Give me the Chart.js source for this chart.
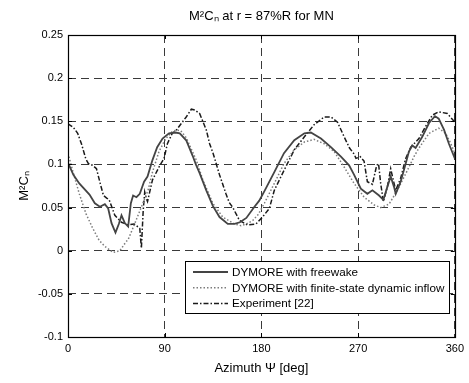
<!DOCTYPE html>
<html>
<head>
<meta charset="utf-8">
<script src="https://cdn.jsdelivr.net/npm/chart.js@4.4.1/dist/chart.umd.min.js"></script>
<style>
  html, body { margin: 0; padding: 0; background: #fff; }
  #wrap { width: 469px; height: 383px; position: relative; }
</style>
</head>
<body>
<div id="wrap"><canvas id="c" width="469" height="383"></canvas></div>
<script>
// ---- Data ----
const chartTitle = 'M\u00B2C\u2099 at r = 87%R for MN';
const yAxisTitle = 'M\u00B2C\u2099';
const xAxisTitle = 'Azimuth \u03A8 [deg]';
const xTickLabels = ['0', '90', '180', '270', '360'];
const yTickLabels = ['-0.1', '-0.05', '0', '0.05', '0.1', '0.15', '0.2', '0.25'];
const seriesNames = ['DYMORE with freewake', 'DYMORE with finite-state dynamic inflow', 'Experiment [22]'];

const freewakeAz = [0, 5, 10.5, 20, 25, 29.7, 34.3, 37.4, 40.5, 44.2, 47.3, 49.8, 52.9, 56, 58.5, 60.6, 63.7, 66.8, 70.8, 74, 78.6, 83, 88, 94, 100, 104, 110, 116, 119, 122.5, 128.7, 134.8, 141, 148.7, 155, 160, 166, 173, 178, 182.8, 187.4, 192, 201, 210.6, 220, 226, 235.4, 244.7, 254, 261.6, 266.3, 272.5, 278.6, 283.3, 289.5, 293.5, 297.2, 300.3, 303.4, 305, 309.6, 314.3, 317.3, 320.4, 323.5, 329.7, 336, 341.5, 345, 350, 354.5, 360];
const freewakeVal = [0.102, 0.088, 0.078, 0.065, 0.055, 0.051, 0.054, 0.049, 0.032, 0.021, 0.031, 0.041, 0.032, 0.028, 0.055, 0.064, 0.062, 0.066, 0.080, 0.086, 0.105, 0.120, 0.130, 0.136, 0.137, 0.136, 0.128, 0.110, 0.100, 0.090, 0.070, 0.052, 0.039, 0.031, 0.031, 0.033, 0.038, 0.050, 0.058, 0.069, 0.080, 0.091, 0.113, 0.128, 0.136, 0.137, 0.130, 0.120, 0.109, 0.099, 0.088, 0.072, 0.066, 0.070, 0.064, 0.059, 0.074, 0.086, 0.074, 0.066, 0.080, 0.101, 0.115, 0.122, 0.119, 0.132, 0.148, 0.156, 0.153, 0.140, 0.124, 0.107];

const finiteAz = [0, 4.3, 10.5, 16.7, 23, 29, 34.3, 42, 48.3, 53.8, 56, 62, 68.4, 74.5, 78.6, 84.7, 91, 97, 101, 105, 110, 119.4, 125.5, 134.8, 144, 155, 161, 166, 172, 177, 182.8, 192, 201, 210.6, 220, 229, 238.4, 247.7, 257, 266.3, 271, 275.6, 285, 291, 298.8, 306.5, 315.8, 322, 326.6, 336, 345, 351.4, 356, 360];
const finiteVal = [0.113, 0.093, 0.066, 0.043, 0.026, 0.012, 0.005, -0.002, 0.000, 0.010, 0.013, 0.031, 0.051, 0.070, 0.091, 0.115, 0.130, 0.138, 0.140, 0.139, 0.131, 0.105, 0.082, 0.055, 0.039, 0.031, 0.029, 0.031, 0.035, 0.042, 0.055, 0.078, 0.101, 0.117, 0.126, 0.129, 0.124, 0.115, 0.097, 0.078, 0.070, 0.062, 0.053, 0.050, 0.054, 0.070, 0.093, 0.109, 0.119, 0.136, 0.142, 0.136, 0.125, 0.113];

const experimentAz = [0, 5, 9, 12.5, 16.7, 19, 23, 26.5, 30.6, 33, 36, 38.3, 43.6, 49.8, 56, 61.5, 66.8, 68.3, 70, 71.4, 73, 74, 78.6, 84.7, 89.4, 92.5, 97, 101, 110, 114.8, 118, 122.5, 128.7, 131.8, 135, 141, 147, 150, 153.4, 159.6, 167, 175, 181, 187.4, 192, 201, 210.6, 220, 229, 238.4, 244.7, 250.8, 257, 262, 266.3, 268, 272, 275.5, 278.6, 283.3, 287.3, 289, 291, 293.5, 297.2, 300.3, 302.7, 305, 309.6, 314.3, 319, 326.6, 332.8, 339, 345, 353, 360];
const experimentVal = [0.147, 0.143, 0.136, 0.124, 0.106, 0.101, 0.099, 0.095, 0.075, 0.064, 0.061, 0.059, 0.041, 0.033, 0.030, 0.031, 0.026, 0.003, 0.047, 0.068, 0.060, 0.057, 0.082, 0.097, 0.107, 0.124, 0.136, 0.140, 0.155, 0.164, 0.163, 0.159, 0.140, 0.124, 0.113, 0.088, 0.066, 0.056, 0.050, 0.035, 0.030, 0.031, 0.039, 0.049, 0.070, 0.093, 0.117, 0.132, 0.146, 0.155, 0.155, 0.149, 0.132, 0.119, 0.112, 0.107, 0.109, 0.104, 0.080, 0.077, 0.099, 0.101, 0.078, 0.057, 0.074, 0.095, 0.082, 0.070, 0.084, 0.107, 0.120, 0.130, 0.144, 0.157, 0.161, 0.159, 0.149];

function pts(xs, ys) { return xs.map((x, i) => ({ x: x, y: ys[i] })); }

const FONT = "'Liberation Sans', Arial, Helvetica, sans-serif";

const styles = [
  { color: '#444444', width: 1.8, dash: [] },
  { color: '#7c7c7c', width: 1.5, dash: [1.5, 2] },
  { color: '#1a1a1a', width: 1.5, dash: [5, 2, 1.5, 2] }
];

const boxPlugin = {
  id: 'boxAndLegend',
  afterLayout(chart) {
    const tb = chart.titleBlock;
    if (tb) { tb.left = chart.chartArea.left; tb.right = chart.chartArea.right; }
  },
  afterDraw(chart) {
    const ctx = chart.ctx;
    const a = chart.chartArea;
    const xs = chart.scales.x, ys = chart.scales.y;
    ctx.save();
    // inward tick marks
    ctx.strokeStyle = '#000';
    ctx.lineWidth = 1;
    ctx.setLineDash([]);
    ys.ticks.forEach(t => {
      const y = Math.round(ys.getPixelForValue(t.value)) + 0.5;
      ctx.beginPath();
      ctx.moveTo(a.left, y); ctx.lineTo(a.left + 4, y);
      ctx.moveTo(a.right, y); ctx.lineTo(a.right - 4, y);
      ctx.stroke();
    });
    xs.ticks.forEach(t => {
      const x = Math.round(xs.getPixelForValue(t.value)) + 0.5;
      ctx.beginPath();
      ctx.moveTo(x, a.top); ctx.lineTo(x, a.top + 4);
      ctx.moveTo(x, a.bottom); ctx.lineTo(x, a.bottom - 4);
      ctx.stroke();
    });
    // axes box
    ctx.lineWidth = 1.2;
    ctx.strokeRect(Math.round(a.left) + 0.5, Math.round(a.top) + 0.5,
                   Math.round(a.right - a.left), Math.round(a.bottom - a.top));
    // legend
    const lx = a.left + 117, ly = a.bottom - 76;
    const lw = 264, lh = 52;
    ctx.fillStyle = '#fff';
    ctx.fillRect(lx, ly, lw, lh);
    ctx.lineWidth = 1;
    ctx.strokeStyle = '#000';
    ctx.strokeRect(lx + 0.5, ly + 0.5, lw, lh);
    ctx.font = '11.7px ' + FONT;
    ctx.textBaseline = 'middle';
    ctx.textAlign = 'left';
    chart.data.datasets.forEach((ds, i) => {
      const y = ly + 11 + i * 15.8;
      ctx.beginPath();
      ctx.strokeStyle = ds.borderColor;
      ctx.lineWidth = ds.borderWidth;
      ctx.setLineDash(ds.borderDash || []);
      ctx.moveTo(lx + 8, y); ctx.lineTo(lx + 43, y);
      ctx.stroke();
      ctx.setLineDash([]);
      ctx.fillStyle = '#000';
      ctx.fillText(ds.label, lx + 47, y + 0.5);
    });
    ctx.restore();
  }
};

new Chart(document.getElementById('c'), {
  type: 'line',
  data: {
    datasets: [
      { label: seriesNames[0], data: pts(freewakeAz, freewakeVal) },
      { label: seriesNames[1], data: pts(finiteAz, finiteVal) },
      { label: seriesNames[2], data: pts(experimentAz, experimentVal) }
    ].map((d, i) => Object.assign(d, {
      borderColor: styles[i].color,
      borderWidth: styles[i].width,
      borderDash: styles[i].dash,
      pointRadius: 0,
      fill: false,
      tension: 0
    }))
  },
  options: {
    responsive: false,
    animation: false,
    devicePixelRatio: 1,
    layout: { padding: { left: 0, right: 13, top: 0, bottom: 0 } },
    plugins: {
      legend: { display: false },
      tooltip: { enabled: false },
      title: {
        display: true,
        text: chartTitle,
        color: '#000',
        font: { family: FONT, size: 13, weight: 'normal', lineHeight: 1.2 },
        padding: { top: 9, bottom: 10.4 }
      }
    },
    scales: {
      x: {
        type: 'linear',
        min: 0, max: 360,
        afterFit(s) { s.height = 46; },
        ticks: {
          stepSize: 90,
          color: '#000',
          padding: 5,
          maxRotation: 0,
          font: { family: FONT, size: 11 },
          callback: (v, i) => xTickLabels[i]
        },
        grid: { color: '#3a3a3a', lineWidth: 1, drawTicks: false },
        border: { display: false, dash: [8, 5] },
        title: {
          display: true, text: xAxisTitle, color: '#000',
          font: { family: FONT, size: 13 },
          padding: { top: 0, bottom: 7 }
        }
      },
      y: {
        type: 'linear',
        min: -0.1, max: 0.25,
        afterFit(s) { s.width = 68; },
        ticks: {
          stepSize: 0.05,
          color: '#000',
          padding: 5,
          font: { family: FONT, size: 11 },
          callback: (v, i) => yTickLabels[i]
        },
        grid: { color: '#3a3a3a', lineWidth: 1, drawTicks: false },
        border: { display: false, dash: [8, 5] },
        title: {
          display: true, text: yAxisTitle, color: '#000',
          font: { family: FONT, size: 13 },
          padding: { top: 17, bottom: 0 }
        }
      }
    }
  },
  plugins: [boxPlugin]
});
</script>
</body>
</html>
